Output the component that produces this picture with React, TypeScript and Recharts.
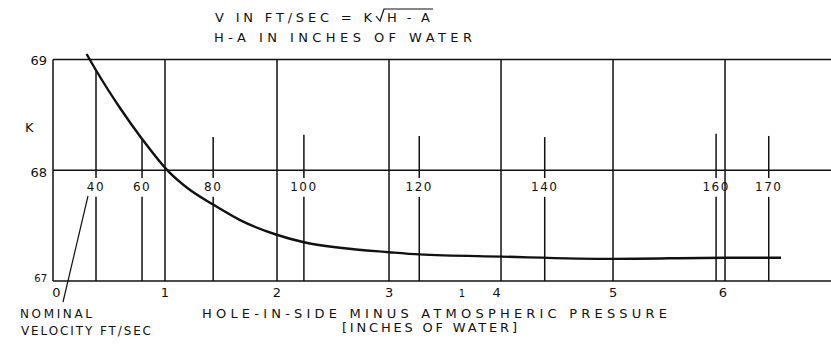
import { LineChart, Line, XAxis, YAxis, ReferenceLine, ReferenceDot } from 'recharts'

// K against hole-in-side minus atmospheric pressure (inches of water)
const pressure = [0.3, 0.38, 0.6, 0.79, 1.03, 1.2, 1.43, 1.67, 1.99, 2.24, 2.56, 3.0, 3.27, 4.0, 5.0, 6.0, 6.5]
const kValue = [69.05, 68.91, 68.56, 68.29, 67.99, 67.84, 67.69, 67.55, 67.42, 67.35, 67.3, 67.26, 67.24, 67.22, 67.2, 67.21, 67.21]

// nominal velocity marks (ft/sec) and the pressure they sit at
const velocity = [40, 60, 80, 100, 120, 140, 160, 170]
const velocityAt = [0.384, 0.795, 1.43, 2.24, 3.27, 4.39, 5.92, 6.39]
const velocityTop = [68.9, 68.28, 68.3, 68.32, 68.31, 68.3, 68.33, 68.31]

const gridAt = [1, 2, 3, 4, 5, 6]
const xTicks = [0.03, 1, 2, 3, 3.65, 3.96, 5, 5.98]
const xTickText = ['0', '1', '2', '3', '1', '4', '5', '6']
const yTicks = [67, 68, 69]

const X_MAX = 6.946
const font = '"DejaVu Sans", sans-serif'
const ink = '#111'

const data = pressure.map((p, i) => ({ p, k: kValue[i] }))

const XTick = (props: any) => {
  const { x, y, index } = props
  return (
    <text x={x} y={y + 16} textAnchor="middle" fontFamily={font} fontSize={index === 4 ? 10 : 13} fill={ink}>
      {xTickText[index]}
    </text>
  )
}

const YTick = (props: any) => {
  const { x, y, index } = props
  const small = index === 0
  return (
    <text x={x - 6} y={y + (small ? 1 : index === 1 ? 7 : 5)} textAnchor="end" fontFamily={font}
      fontSize={small ? 10 : 13} fill={ink}>
      {yTicks[index]}
    </text>
  )
}

const App = () => {
  const line = { stroke: ink, strokeWidth: 1.5 }
  return (
    <div style={{ position: 'absolute', left: 0, top: 0, width: 831, height: 345, background: '#fff' }}>
      <LineChart width={831} height={345} data={data} margin={{ top: 54, right: 0, bottom: 34, left: 0 }}>
        <XAxis dataKey="p" type="number" domain={[0, X_MAX]} ticks={xTicks} interval={0}
          axisLine={false} tickLine={false} tickSize={0} tickMargin={0} height={30} tick={<XTick />} />
        <YAxis type="number" domain={[67, 69.05]} ticks={yTicks} interval={0} width={53}
          axisLine={false} tickLine={false} tickSize={0} tickMargin={0} tick={<YTick />} />

        {yTicks.map((v) => (
          <ReferenceLine key={'h' + v} segment={[{ x: 0, y: v }, { x: X_MAX, y: v }]} {...line} />
        ))}
        <ReferenceLine segment={[{ x: 0, y: 67 }, { x: 0, y: 69 }]} {...line} />
        {gridAt.map((g) => (
          <ReferenceLine key={'g' + g} segment={[{ x: g, y: 67 }, { x: g, y: 69 }]} {...line} />
        ))}

        {velocity.map((v, i) => (
          <ReferenceLine key={'vt' + v} segment={[{ x: velocityAt[i], y: velocityTop[i] }, { x: velocityAt[i], y: 67.93 }]} {...line} />
        ))}
        {velocity.map((v, i) => (
          <ReferenceLine key={'vb' + v} segment={[{ x: velocityAt[i], y: 67.76 }, { x: velocityAt[i], y: 67 }]} {...line} />
        ))}
        {velocity.map((v, i) => (
          <ReferenceDot key={'vl' + v} x={velocityAt[i]} y={67.853} r={0} stroke="none" fill="none"
            label={{ value: String(v), position: 'center', fill: ink, fontSize: 12, fontFamily: font, letterSpacing: 1.5 }} />
        ))}

        <Line type="monotone" dataKey="k" stroke={ink} strokeWidth={2.4} dot={false} isAnimationActive={false} />
      </LineChart>

      <svg width={831} height={345} style={{ position: 'absolute', left: 0, top: 0, pointerEvents: 'none' }}>
        <g fontFamily={font} fontSize={13} fill={ink}>
          <text x={215} y={22} textLength={157} lengthAdjust="spacing">V IN FT/SEC = K</text>
          <path d="M376 16 L380 21 L384 9 L433 9" stroke={ink} strokeWidth={1.2} fill="none" />
          <text x={387} y={22} textLength={43} lengthAdjust="spacing">H-A</text>
          <text x={214} y={42} textLength={258} lengthAdjust="spacing">H-A IN INCHES OF WATER</text>

          <text x={25} y={132}>K</text>

          <text x={202} y={318} textLength={465} lengthAdjust="spacing">HOLE-IN-SIDE MINUS ATMOSPHERIC PRESSURE</text>
          <text x={342} y={332} textLength={175} lengthAdjust="spacing">[INCHES OF WATER]</text>

          <text x={20} y={318} textLength={72} lengthAdjust="spacing" fontSize={12}>NOMINAL</text>
          <text x={21} y={335} textLength={130} lengthAdjust="spacing" fontSize={12}>VELOCITY FT/SEC</text>
        </g>
        <line x1={63} y1={302} x2={88} y2={196} stroke={ink} strokeWidth={1.2} />
      </svg>
    </div>
  )
}

export default App
